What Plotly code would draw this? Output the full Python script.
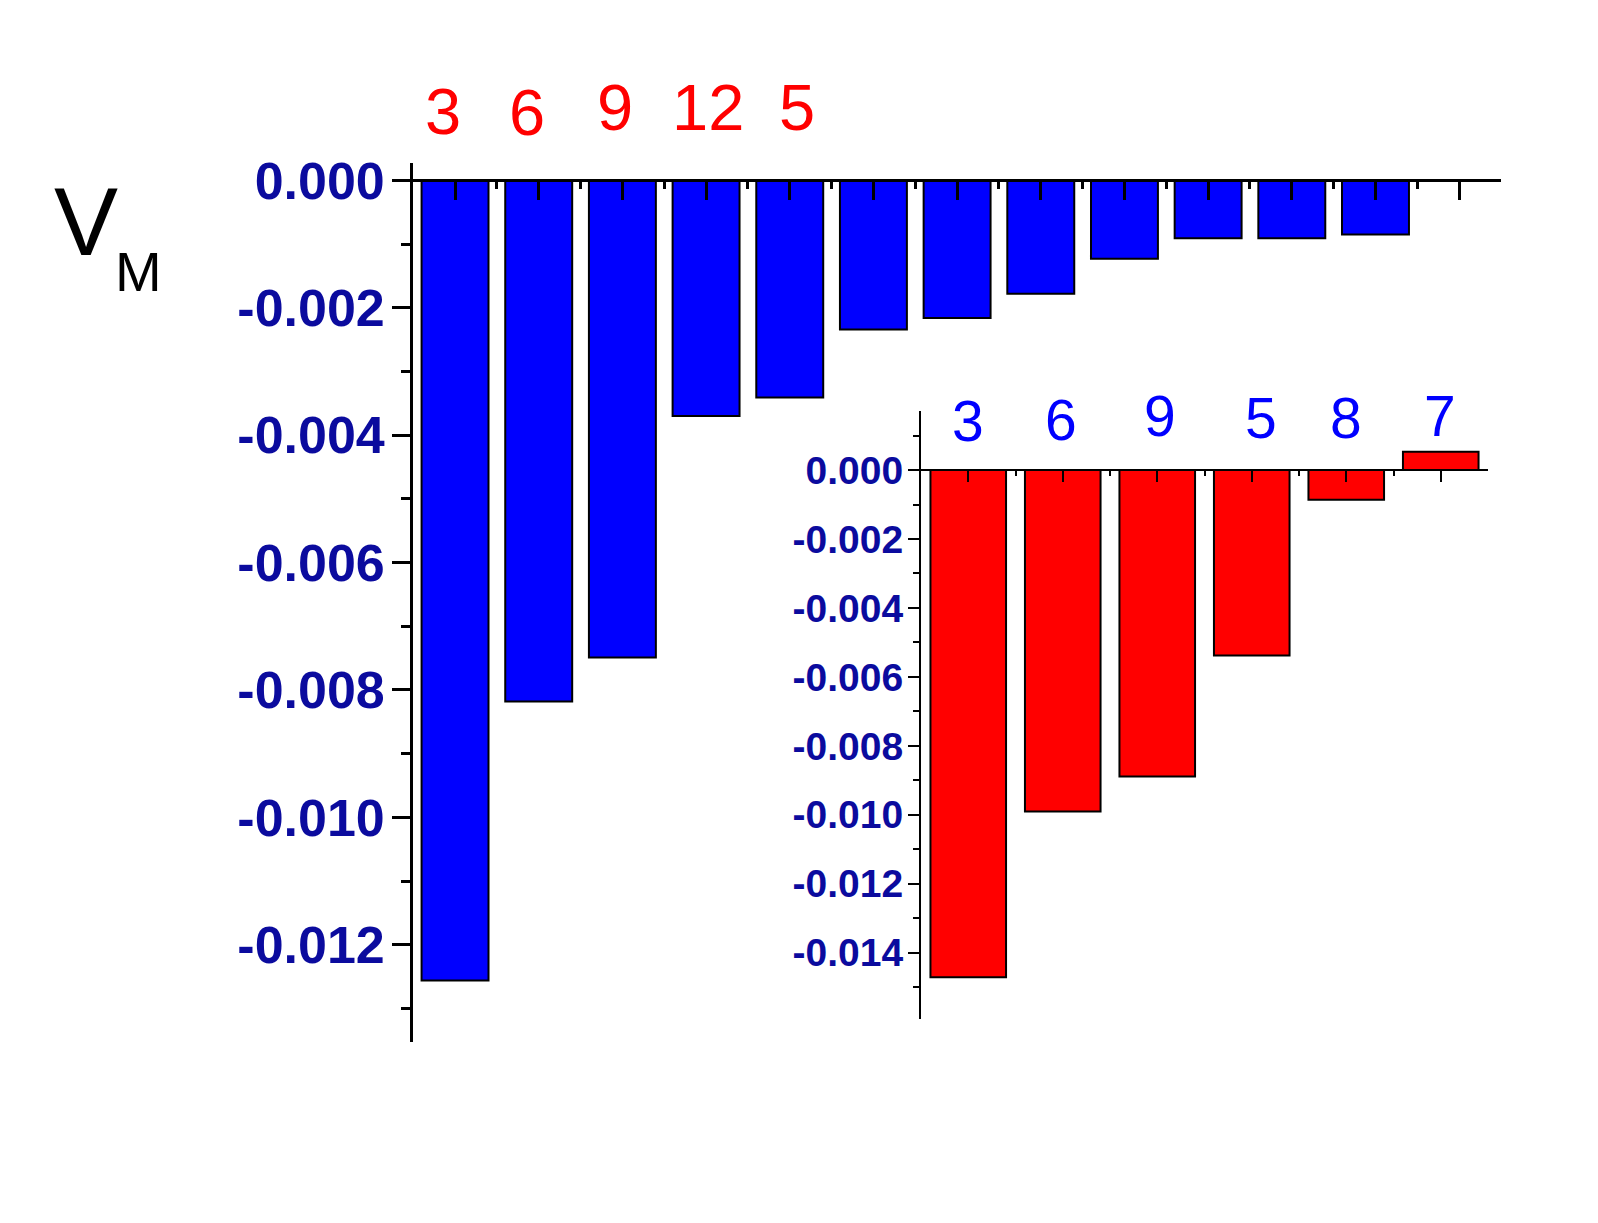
import plotly.graph_objects as go

# ---------------- data ----------------
main_positions = [1, 2, 3, 4, 5, 6, 7, 8, 9, 10, 11, 12]
main_values = [-0.01256, -0.00818, -0.00749, -0.00370, -0.00341, -0.00234,
               -0.00216, -0.00178, -0.00123, -0.00091, -0.00091, -0.00085]
main_labels = ["3", "6", "9", "12", "5"]

inset_positions = [1, 2, 3, 4, 5, 6]
inset_values = [-0.01471, -0.00990, -0.00889, -0.00538, -0.00086, 0.00053]
inset_labels = ["3", "6", "9", "5", "8", "7"]

main_ytickvals = [0.0, -0.002, -0.004, -0.006, -0.008, -0.010, -0.012]
main_yticktext = ["0.000", "-0.002", "-0.004", "-0.006", "-0.008", "-0.010", "-0.012"]
inset_ytickvals = [0.0, -0.002, -0.004, -0.006, -0.008, -0.010, -0.012, -0.014]
inset_yticktext = ["0.000", "-0.002", "-0.004", "-0.006", "-0.008", "-0.010", "-0.012", "-0.014"]

# ---------------- layout geometry (pixels) ----------------
W, H = 1598, 1223
FONT = "Liberation Sans, Arial, Helvetica, sans-serif"
TICK_COLOR = "#0B0B9E"

main_px = dict(x0=413.2, x1=1501.0, ytop=163.0, ybot=1041.5)
main_yrange = [-0.013519, 0.000272]
main_xrange = [0.5, 13.5]

inset_px = dict(x0=921.0, x1=1488.0, ytop=411.0, ybot=1019.0)
inset_yrange = [-0.015922, 0.001713]
inset_xrange = [0.5, 6.5]

main_label_xshift = [-12, -12, -7, 2, 7]
main_label_ypx = [111, 112, 107, 107, 107]
inset_label_xshift = [0, -2, 3, 9, 0, -1]
inset_label_ypx = [421, 420, 416, 418, 418, 416]


def xdom(p):
    return [p["x0"] / W, p["x1"] / W]


def ydom(p):
    return [1 - p["ybot"] / H, 1 - p["ytop"] / H]


def zero_pos(p, yr):
    d = ydom(p)
    return d[0] + (0 - yr[0]) / (yr[1] - yr[0]) * (d[1] - d[0])


fig = go.Figure()

fig.add_trace(go.Bar(
    x=main_positions, y=main_values, width=0.8,
    marker=dict(color="#0000FF", line=dict(color="black", width=2)),
    xaxis="x", yaxis="y", showlegend=False,
))
fig.add_trace(go.Bar(
    x=inset_positions, y=inset_values, width=0.8,
    marker=dict(color="#FF0000", line=dict(color="black", width=2)),
    xaxis="x2", yaxis="y2", showlegend=False,
))

fig.update_layout(
    template="none",
    width=W, height=H,
    margin=dict(l=0, r=0, t=0, b=0, pad=0),
    paper_bgcolor="white",
    plot_bgcolor="rgba(0,0,0,0)",
    font=dict(family=FONT),
    xaxis=dict(
        domain=xdom(main_px), range=main_xrange, anchor="free",
        position=zero_pos(main_px, main_yrange), side="top", automargin=False,
        showline=True, linecolor="black", linewidth=3,
        tickmode="array", tickvals=list(range(1, 14)),
        ticks="inside", ticklen=18, tickwidth=3, tickcolor="black",
        showticklabels=False, showgrid=False, zeroline=False,
        minor=dict(tick0=0.5, dtick=1, ticks="inside", ticklen=7,
                   tickwidth=3, tickcolor="black", showgrid=False),
    ),
    yaxis=dict(
        domain=ydom(main_px), range=main_yrange, anchor="x", automargin=False,
        showline=True, linecolor="black", linewidth=3,
        tickmode="array", tickvals=main_ytickvals, ticktext=main_yticktext,
        ticks="outside", ticklen=18, tickwidth=3, tickcolor="black",
        tickfont=dict(family=FONT, size=52, color=TICK_COLOR, weight="bold"),
        ticklabelstandoff=-3,
        showgrid=False, zeroline=False,
        minor=dict(tick0=0, dtick=0.001, ticks="outside", ticklen=9,
                   tickwidth=3, tickcolor="black", showgrid=False),
    ),
    xaxis2=dict(
        domain=xdom(inset_px), range=inset_xrange, anchor="free",
        position=zero_pos(inset_px, inset_yrange), side="top", automargin=False,
        showline=True, linecolor="black", linewidth=2,
        tickmode="array", tickvals=list(range(1, 7)),
        ticks="inside", ticklen=11, tickwidth=2, tickcolor="black",
        showticklabels=False, showgrid=False, zeroline=False,
        minor=dict(tick0=0.5, dtick=1, ticks="inside", ticklen=5,
                   tickwidth=2, tickcolor="black", showgrid=False),
    ),
    yaxis2=dict(
        domain=ydom(inset_px), range=inset_yrange, anchor="x2", automargin=False,
        showline=True, linecolor="black", linewidth=2,
        tickmode="array", tickvals=inset_ytickvals, ticktext=inset_yticktext,
        ticks="outside", ticklen=11, tickwidth=2, tickcolor="black",
        tickfont=dict(family=FONT, size=39, color=TICK_COLOR, weight="bold"),
        ticklabelstandoff=-3,
        showgrid=False, zeroline=False,
        minor=dict(tick0=0, dtick=0.001, ticks="outside", ticklen=6,
                   tickwidth=2, tickcolor="black", showgrid=False),
    ),
)

annotations = []
for i, lab in enumerate(main_labels):
    annotations.append(dict(
        x=main_positions[i], xref="x", y=1 - main_label_ypx[i] / H, yref="paper",
        text=lab, showarrow=False, xshift=main_label_xshift[i],
        xanchor="center", yanchor="middle",
        font=dict(family=FONT, size=65, color="#FF0000"),
    ))
for i, lab in enumerate(inset_labels):
    annotations.append(dict(
        x=inset_positions[i], xref="x2", y=1 - inset_label_ypx[i] / H, yref="paper",
        text=lab, showarrow=False, xshift=inset_label_xshift[i],
        xanchor="center", yanchor="middle",
        font=dict(family=FONT, size=57, color="#0000FF"),
    ))
annotations.append(dict(
    x=86 / W, y=1 - 222 / H, xref="paper", yref="paper", text="V",
    showarrow=False, xanchor="center", yanchor="middle",
    font=dict(family=FONT, size=96, color="black"),
))
annotations.append(dict(
    x=138 / W, y=1 - 272 / H, xref="paper", yref="paper", text="M",
    showarrow=False, xanchor="center", yanchor="middle",
    font=dict(family=FONT, size=56, color="black"),
))
fig.update_layout(annotations=annotations)

fig.write_html("out.html")
